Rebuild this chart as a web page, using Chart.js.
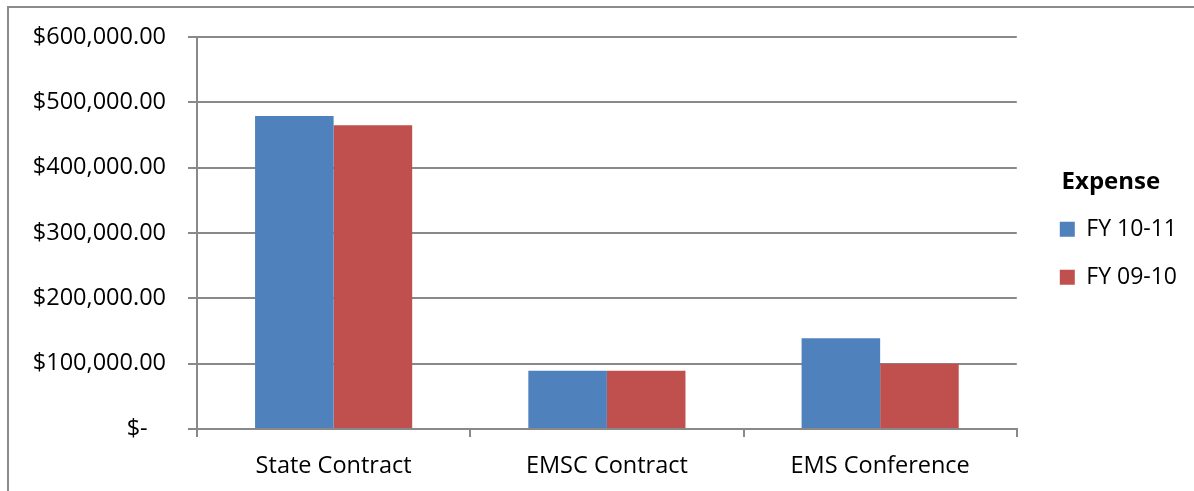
<!DOCTYPE html>
<html>
<head>
<meta charset="utf-8">
<script src="https://cdn.jsdelivr.net/npm/chart.js@4"></script>
<style>
    html, body { margin: 0; padding: 0; background: #fff; overflow: hidden; }
    #frame { position: absolute; left: 7px; top: 6px; width: 1200px; height: 500px; border: 2px solid #8c8c8c; box-sizing: border-box; }
    #wrap { position: absolute; left: 0; top: 0; width: 1194px; height: 491px; }
</style>
</head>
<body>
<div id="frame"></div>
<div id="wrap"><canvas id="expenseChart"></canvas></div>
<script>
// ========== DATA ==========
const categories = ['State Contract', 'EMSC Contract', 'EMS Conference'];
const fy1011 = [479000, 89000, 139000];
const fy0910 = [465000, 89000, 100000];
const seriesNames = ['FY 10-11', 'FY 09-10'];
const yTicks = [0, 100000, 200000, 300000, 400000, 500000, 600000];

const gridColor = '#898989';
const fontFamily = '"Open Sans", sans-serif';

// nudge the legend to the right after layout, so the plot keeps its width
const legendShift = {
    id: 'legendShift',
    afterLayout: function(chart) {
        if (chart.legend) {
            chart.legend.left += 18;
            chart.legend.right += 18;
        }
    }
};

document.addEventListener("DOMContentLoaded", function() {
    const ctx = document.getElementById('expenseChart');

    new Chart(ctx, {
        type: 'bar',
        data: {
            labels: categories,
            datasets: [{
                label: seriesNames[0],
                data: fy1011,
                backgroundColor: '#4F81BD',
                categoryPercentage: 0.575,
                barPercentage: 1.0
            }, {
                label: seriesNames[1],
                data: fy0910,
                backgroundColor: '#C0504D',
                categoryPercentage: 0.575,
                barPercentage: 1.0
            }]
        },
        plugins: [legendShift],
        options: {
            responsive: true,
            maintainAspectRatio: false,
            animation: false,
            layout: {
                padding: { left: 7, top: 37, right: 25, bottom: 0 }
            },
            plugins: {
                legend: {
                    position: 'right',
                    align: 'start',
                    title: {
                        display: true,
                        text: 'Expense',
                        position: 'center',
                        color: '#000',
                        font: { family: fontFamily, size: 24, weight: 'bold' },
                        padding: { top: 133, bottom: -6 }
                    },
                    labels: {
                        color: '#000',
                        font: { family: fontFamily, size: 23 },
                        boxWidth: 15,
                        boxHeight: 15,
                        padding: 25
                    }
                },
                tooltip: { enabled: false }
            },
            scales: {
                x: {
                    afterFit: function(axis) { axis.height = 62; },
                    grid: {
                        display: true,
                        drawOnChartArea: false,
                        drawTicks: true,
                        tickLength: 8,
                        color: gridColor,
                        lineWidth: 2
                    },
                    border: { color: gridColor, width: 2 },
                    ticks: {
                        color: '#000',
                        font: { family: fontFamily, size: 23.5 },
                        padding: 15
                    }
                },
                y: {
                    min: 0,
                    max: 600000,
                    afterFit: function(axis) { axis.width = 190; },
                    afterBuildTicks: function(axis) {
                        axis.ticks = yTicks.map(v => ({ value: v }));
                    },
                    grid: {
                        color: gridColor,
                        lineWidth: 2,
                        tickLength: 9
                    },
                    border: { color: gridColor, width: 2 },
                    ticks: {
                        color: '#000',
                        font: { family: fontFamily, size: 23.5 },
                        padding: 22,
                        callback: function(value) {
                            if (value === 0) return '$-   ';
                            return '$' + value.toLocaleString('en-US', { minimumFractionDigits: 2, maximumFractionDigits: 2 });
                        }
                    }
                }
            }
        }
    });
});
</script>
</body>
</html>
